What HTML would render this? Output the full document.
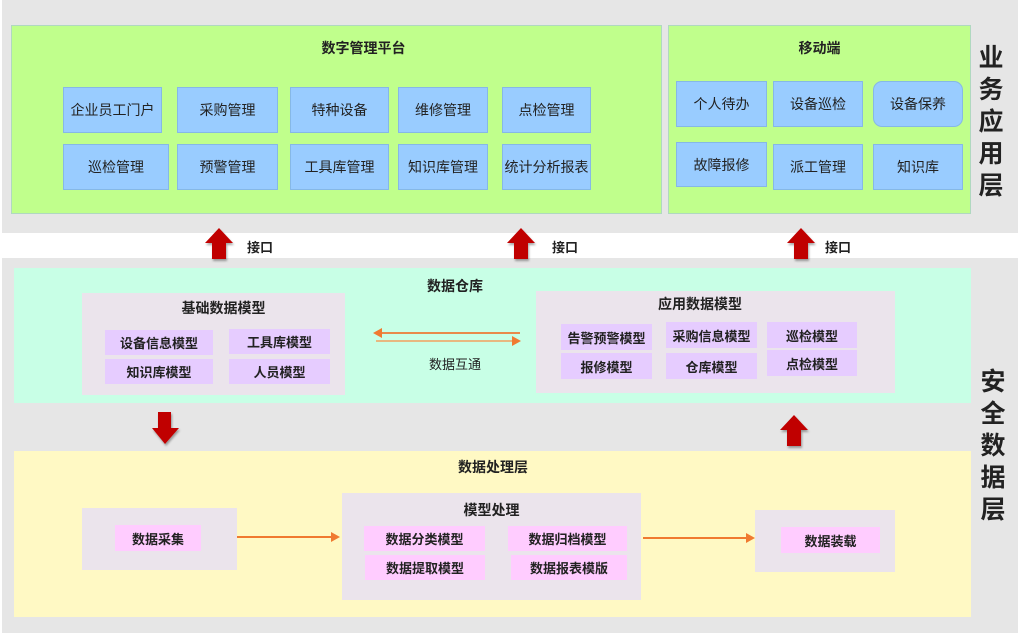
<!DOCTYPE html>
<html><head><meta charset="utf-8"><style>
*{margin:0;padding:0;box-sizing:border-box}
body{width:1018px;height:634px;background:#fff;position:relative;overflow:hidden;font-family:"Liberation Sans","Noto Sans CJK SC",sans-serif;color:#222}
div{position:absolute}
.c{display:flex;align-items:center;justify-content:center;text-align:center;white-space:nowrap}
.b{background:#99ccff;border:1px solid #86b8e6;font-size:14px;color:#222}
.t{font-size:14px;font-weight:bold}
.ct{background:#ebe4ec}
.p{background:#e6ccff;font-size:13px;font-weight:bold}
.k{background:#ffccff;font-size:13px;font-weight:bold}
.v{font-size:25px;font-weight:bold;line-height:32px;width:32px;text-align:center;white-space:normal}
</style></head><body>
<div style="left:2px;top:0;width:1016px;height:233px;background:#e6e6e6"></div>
<div style="left:2px;top:258px;width:1016px;height:375px;background:#e6e6e6"></div>

<div style="left:11px;top:25px;width:651px;height:189px;background:#c0ff8c;border:1px solid #b0d8c0"></div>
<div class="c t" style="left:11px;top:38px;width:705px;height:20px">数字管理平台</div>
<div class="c b" style="left:63px;top:87px;width:99px;height:46px">企业员工门户</div>
<div class="c b" style="left:177px;top:87px;width:101px;height:46px">采购管理</div>
<div class="c b" style="left:290px;top:87px;width:99px;height:46px">特种设备</div>
<div class="c b" style="left:398px;top:87px;width:90px;height:46px">维修管理</div>
<div class="c b" style="left:502px;top:87px;width:89px;height:46px">点检管理</div>
<div class="c b" style="left:63px;top:144px;width:106px;height:46px">巡检管理</div>
<div class="c b" style="left:177px;top:144px;width:101px;height:46px">预警管理</div>
<div class="c b" style="left:290px;top:144px;width:99px;height:46px">工具库管理</div>
<div class="c b" style="left:398px;top:144px;width:90px;height:46px">知识库管理</div>
<div class="c b" style="left:502px;top:144px;width:89px;height:46px">统计分析报表</div>

<div style="left:668px;top:25px;width:303px;height:189px;background:#c0ff8c;border:1px solid #b0d8c0"></div>
<div class="c t" style="left:668px;top:38px;width:303px;height:20px">移动端</div>
<div class="c b" style="left:676px;top:81px;width:91px;height:46px">个人待办</div>
<div class="c b" style="left:773px;top:81px;width:90px;height:46px">设备巡检</div>
<div class="c b" style="left:873px;top:81px;width:90px;height:46px;border-radius:9px">设备保养</div>
<div class="c b" style="left:676px;top:142px;width:91px;height:45px">故障报修</div>
<div class="c b" style="left:773px;top:144px;width:90px;height:46px">派工管理</div>
<div class="c b" style="left:873px;top:144px;width:90px;height:46px">知识库</div>
<div class="v" style="left:975px;top:42px">业务应用层</div>

<svg style="position:absolute;left:0;top:0" width="1018" height="634">
<defs><filter id="s"><feDropShadow dx="1" dy="2" stdDeviation="1" flood-opacity="0.35"/></filter></defs>
<g fill="#c00000" filter="url(#s)">
<polygon points="219,228 233,243 226,243 226,259 212,259 212,243 205,243"/>
<polygon points="521,228 535,243 528,243 528,259 514,259 514,243 507,243"/>
<polygon points="801,228 815,243 808,243 808,259 794,259 794,243 787,243"/>
<polygon points="158,412 171,412 171,428 179,428 165,444 152,428 158,428"/>
<polygon points="794,415 808,430 801,430 801,446 787,446 787,430 780,430"/>
</g>
</svg>
<div class="t" style="left:247px;top:237px;font-size:13px">接口</div>
<div class="t" style="left:552px;top:237px;font-size:13px">接口</div>
<div class="t" style="left:825px;top:237px;font-size:13px">接口</div>

<div style="left:14px;top:268px;width:957px;height:135px;background:#c8ffe6"></div>
<div class="c t" style="left:400px;top:276px;width:110px;height:20px">数据仓库</div>
<div class="ct" style="left:82px;top:293px;width:263px;height:102px"></div>
<div class="c t" style="left:82px;top:298px;width:283px;height:20px">基础数据模型</div>
<div class="c p" style="left:105px;top:330px;width:108px;height:25px">设备信息模型</div>
<div class="c p" style="left:229px;top:329px;width:101px;height:25px">工具库模型</div>
<div class="c p" style="left:105px;top:359px;width:108px;height:25px">知识库模型</div>
<div class="c p" style="left:229px;top:359px;width:101px;height:25px">人员模型</div>
<div class="ct" style="left:536px;top:291px;width:359px;height:102px"></div>
<div class="c t" style="left:536px;top:294px;width:328px;height:20px">应用数据模型</div>
<div class="c p" style="left:561px;top:324px;width:91px;height:26px">告警预警模型</div>
<div class="c p" style="left:666px;top:322px;width:91px;height:26px">采购信息模型</div>
<div class="c p" style="left:767px;top:322px;width:90px;height:26px">巡检模型</div>
<div class="c p" style="left:561px;top:353px;width:91px;height:26px">报修模型</div>
<div class="c p" style="left:666px;top:353px;width:91px;height:26px">仓库模型</div>
<div class="c p" style="left:767px;top:350px;width:90px;height:26px">点检模型</div>
<div class="c" style="left:400px;top:353px;width:110px;height:20px;font-size:13px">数据互通</div>

<div style="left:14px;top:451px;width:957px;height:166px;background:#fff9c4"></div>
<div class="c t" style="left:440px;top:457px;width:106px;height:20px">数据处理层</div>
<div class="ct" style="left:82px;top:508px;width:155px;height:62px"></div>
<div class="c k" style="left:115px;top:525px;width:86px;height:26px">数据采集</div>
<div class="ct" style="left:342px;top:493px;width:299px;height:107px"></div>
<div class="c t" style="left:342px;top:500px;width:299px;height:20px">模型处理</div>
<div class="c k" style="left:364px;top:526px;width:121px;height:25px">数据分类模型</div>
<div class="c k" style="left:508px;top:526px;width:119px;height:25px">数据归档模型</div>
<div class="c k" style="left:365px;top:555px;width:120px;height:25px">数据提取模型</div>
<div class="c k" style="left:511px;top:555px;width:116px;height:25px">数据报表模版</div>
<div class="ct" style="left:755px;top:510px;width:140px;height:62px"></div>
<div class="c k" style="left:781px;top:527px;width:99px;height:26px">数据装载</div>
<div class="v" style="left:977px;top:366px">安全数据层</div>

<svg style="position:absolute;left:0;top:0" width="1018" height="634">
<g stroke-width="2" fill="#f07a30">
<line x1="378" y1="333" x2="520" y2="333" stroke="#e88a4a"/>
<polygon points="373,333 382,328 382,338"/>
<line x1="376" y1="341" x2="514" y2="341" stroke="#e8b880"/>
<polygon points="521,341 512,336 512,346"/>
<line x1="237" y1="537" x2="333" y2="537" stroke="#f07a30"/>
<polygon points="340,537 331,532 331,542"/>
<line x1="643" y1="538" x2="748" y2="538" stroke="#f07a30"/>
<polygon points="755,538 746,533 746,543"/>
</g>
</svg>
</body></html>
